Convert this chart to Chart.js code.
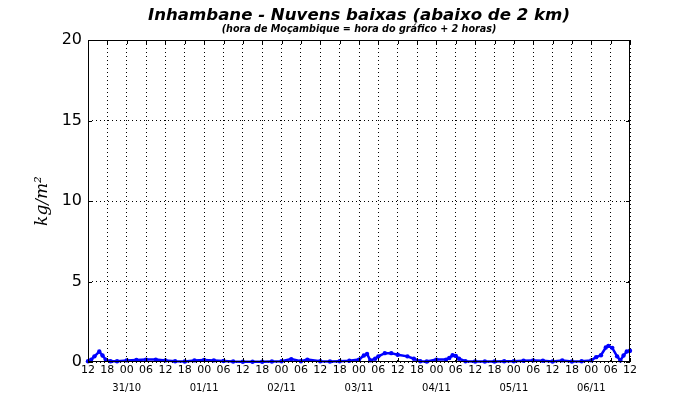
<!DOCTYPE html>
<html>
<head>
<meta charset="utf-8">
<script src="https://cdn.jsdelivr.net/npm/chart.js@4/dist/chart.umd.min.js"></script>
<style>
  html, body { margin: 0; padding: 0; background: #fff; }
  #wrap { width: 700px; height: 400px; }
</style>
</head>
<body>
<div id="wrap"><canvas id="myChart" width="700" height="400"></canvas></div>
<script>
// hours since 30/10 12h (graph time)
const hours = [0, 1, 2, 3.5, 4.5, 5.5, 7, 9, 12, 15, 18, 21, 24, 27, 30, 33, 36, 39, 42, 45,
    48, 51, 54, 57, 60, 63, 66, 68, 72, 75, 78, 81, 84, 85.5, 86.5, 87.5, 89, 90, 92, 94,
    96, 99, 101, 103, 105, 108, 111, 112, 113, 114, 115, 117, 120, 123, 126, 129, 132, 135,
    138, 141, 144, 147, 150, 153, 156, 157.5, 159, 160.5, 161.3, 162.5, 164, 165, 166, 167, 168];
const cloudValues = [0.05, 0.15, 0.35, 0.65, 0.4, 0.15, 0.05, 0.05, 0.1, 0.12, 0.15, 0.15, 0.1, 0.05, 0.03, 0.1, 0.12, 0.1, 0.06, 0.03,
    0.02, 0.02, 0.02, 0.03, 0.05, 0.18, 0.05, 0.15, 0.05, 0.03, 0.05, 0.08, 0.15, 0.4, 0.5, 0.1, 0.2, 0.35, 0.55, 0.55,
    0.45, 0.35, 0.2, 0.05, 0.03, 0.15, 0.15, 0.25, 0.42, 0.38, 0.2, 0.05, 0.03, 0.03, 0.03, 0.05, 0.05, 0.08,
    0.1, 0.08, 0.03, 0.1, 0.03, 0.05, 0.1, 0.3, 0.42, 0.9, 1.0, 0.88, 0.35, 0.1, 0.4, 0.65, 0.7];
const dayLabels = ['31/10', '01/11', '02/11', '03/11', '04/11', '05/11', '06/11'];
const dayHours = [12, 36, 60, 84, 108, 132, 156];
const yTicks = [0, 5, 10, 15, 20];

const TITLE = 'Inhambane - Nuvens baixas (abaixo de 2 km)';
const SUBTITLE = '(hora de Moçambique = hora do gráfico + 2 horas)';
const FONT = "'DejaVu Sans', sans-serif";

// frame, inward ticks, titles and day labels
const decorPlugin = {
    id: 'decor',
    afterDraw(chart) {
        const c = chart.ctx;
        const a = chart.chartArea;
        const xs = chart.scales.x, ys = chart.scales.y;
        c.save();
        c.strokeStyle = '#000';
        c.lineWidth = 1;
        c.setLineDash([]);
        c.strokeRect(a.left + 0.5, a.top + 0.5, a.right - a.left - 1, a.bottom - a.top - 1);
        c.beginPath();
        xs.ticks.forEach(t => {
            const px = Math.round(xs.getPixelForValue(t.value)) + 0.5;
            c.moveTo(px, a.bottom); c.lineTo(px, a.bottom - 4);
            c.moveTo(px, a.top); c.lineTo(px, a.top + 4);
        });
        ys.ticks.forEach(t => {
            const py = Math.round(ys.getPixelForValue(t.value)) + 0.5;
            c.moveTo(a.left, py); c.lineTo(a.left + 4, py);
            c.moveTo(a.right, py); c.lineTo(a.right - 4, py);
        });
        c.stroke();

        c.fillStyle = '#000';
        c.textAlign = 'center';
        c.textBaseline = 'middle';
        const cx = (a.left + a.right) / 2;
        c.font = 'italic bold 16.6px ' + FONT;
        c.fillText(TITLE, cx, 16);
        c.font = 'italic bold 9.6px ' + FONT;
        c.fillText(SUBTITLE, cx, 29);

        c.font = '10px ' + FONT;
        dayLabels.forEach((d, i) => {
            c.fillText(d, xs.getPixelForValue(dayHours[i]), 388);
        });
        c.restore();
    }
};

const ctx = document.getElementById('myChart').getContext('2d');
const myChart = new Chart(ctx, {
    type: 'line',
    data: {
        datasets: [{
            data: hours.map((h, i) => ({ x: h, y: cloudValues[i] })),
            borderColor: '#0000ff',
            backgroundColor: '#0000ff',
            borderWidth: 2.5,
            pointRadius: 2.2,
            pointBorderWidth: 0,
            tension: 0,
            clip: 3
        }]
    },
    options: {
        responsive: false,
        animation: false,
        layout: { padding: { top: 40, right: 70, left: 0, bottom: 0 } },
        plugins: {
            legend: { display: false },
            tooltip: { enabled: false }
        },
        scales: {
            x: {
                type: 'linear',
                min: 0,
                max: 168,
                afterFit(scale) { scale.height = 38; },
                afterBuildTicks(scale) {
                    const t = [];
                    for (let v = 0; v <= 168; v += 6) t.push({ value: v });
                    scale.ticks = t;
                },
                ticks: {
                    autoSkip: false,
                    maxRotation: 0,
                    padding: 2,
                    color: '#000',
                    font: { family: FONT, size: 11 },
                    callback: v => String((12 + v) % 24).padStart(2, '0')
                },
                grid: { color: '#000', lineWidth: 1, drawTicks: false },
                border: { display: false, dash: [1, 3] }
            },
            y: {
                min: 0,
                max: 20,
                afterFit(scale) { scale.width = 88; },
                afterBuildTicks(scale) { scale.ticks = yTicks.map(v => ({ value: v })); },
                ticks: {
                    padding: 6,
                    color: '#000',
                    font: { family: FONT, size: 16 }
                },
                grid: { color: '#000', lineWidth: 1, drawTicks: false },
                border: { display: false, dash: [1, 3] },
                title: {
                    display: true,
                    text: 'kg/m²',
                    color: '#000',
                    font: { family: "'DejaVu Serif', serif", size: 17, style: 'italic' },
                    padding: { top: 32, bottom: 0 }
                }
            }
        }
    },
    plugins: [decorPlugin]
});
</script>
</body>
</html>
